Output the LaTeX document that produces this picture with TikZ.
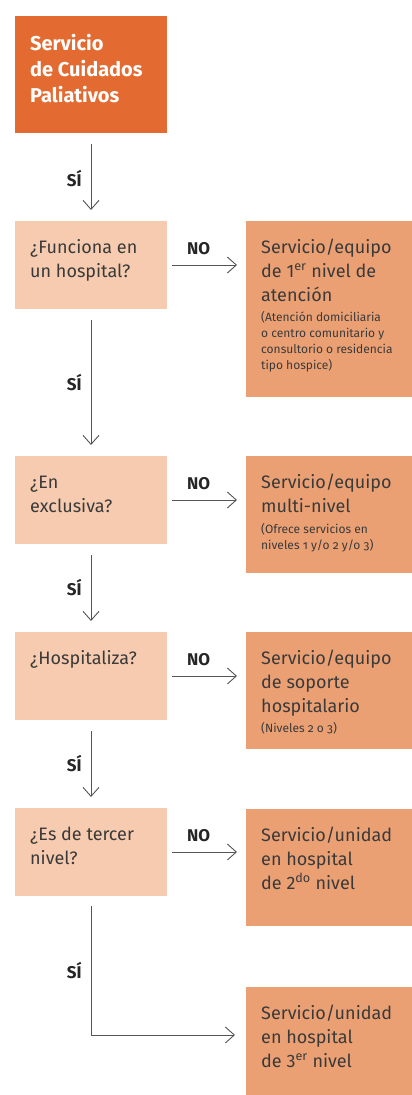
\documentclass[tikz,border=0pt]{standalone}
\usepackage{fontspec}
\setmainfont{Fira Sans}
\usetikzlibrary{arrows.meta}

\definecolor{naranja}{HTML}{E36B32}
\definecolor{salmon}{HTML}{EBA073}
\definecolor{melocoton}{HTML}{F6CBAF}
\definecolor{tinta}{HTML}{3A3A3A}
\definecolor{trazo}{HTML}{555555}

\tikzset{
  caja/.style={anchor=north west, inner sep=0pt, outer sep=0pt},
  inicio/.style={caja, fill=naranja, minimum width=152pt, minimum height=117pt},
  pregunta/.style={caja, fill=melocoton, minimum width=152pt, minimum height=88pt},
  respuesta/.style={caja, fill=salmon, minimum width=166pt},
  texto/.style={anchor=base west, inner sep=0pt, align=left, text=tinta,
    font=\fontsize{18}{24}\selectfont},
  nota/.style={anchor=base west, inner sep=0pt, align=left, text=tinta,
    font=\fontsize{12}{16}\selectfont\addfontfeatures{Numbers=OldStyle}},
  titulo/.style={anchor=base west, inner sep=0pt, align=left, text=white,
    font=\bfseries\fontsize{20}{26}\selectfont},
  flecha/.style={draw=trazo, line width=0.9pt,
    -{Straight Barb[length=9pt,width=16pt,line width=0.9pt]}},
  baja/.style={flecha, shorten <=11pt, shorten >=11pt},
  lado/.style={flecha, shorten <=5pt, shorten >=9pt},
  etiqueta/.style={inner sep=0pt, text=black!85, font=\bfseries\fontsize{17}{20}\selectfont},
}

\begin{document}
\begin{tikzpicture}[x=1pt, y=-1pt]
  \useasboundingbox (0,0) rectangle (412,1095);

  \def\margen{15pt}% text inset
  % base anchor sits on the last line: 32pt + 24pt per extra line
  \def\una{32pt}%
  \def\dos{56pt}%
  \def\tres{80pt}%

  % cajas
  \node[inicio] (inicio) at (15,16) {};
  \node[pregunta] (p1) at (15,221) {};
  \node[pregunta] (p2) at (15,456) {};
  \node[pregunta] (p3) at (15,632) {};
  \node[pregunta] (p4) at (15,808) {};
  \node[respuesta, minimum height=176pt] (r1) at (246,221) {};
  \node[respuesta, minimum height=117pt] (r2) at (246,456) {};
  \node[respuesta, minimum height=117pt] (r3) at (246,632) {};
  \node[respuesta, minimum height=117pt] (r4) at (246,809) {};
  \node[respuesta, minimum height=108pt] (r5) at (246,987) {};

  % textos
  \node[titulo] (inicio-t) at ([xshift=\margen, yshift=-86pt]inicio.north west)
    {Servicio\\de Cuidados\\Paliativos};
  \node[texto] (p1-t) at ([xshift=\margen, yshift=-\dos]p1.north west)
    {¿Funciona en\\un hospital?};
  \node[texto] (p2-t) at ([xshift=\margen, yshift=-\dos]p2.north west)
    {¿En\\exclusiva?};
  \node[texto] (p3-t) at ([xshift=\margen, yshift=-\una]p3.north west)
    {¿Hospitaliza?};
  \node[texto] (p4-t) at ([xshift=\margen, yshift=-\dos]p4.north west)
    {¿Es de tercer\\nivel?};

  \node[texto] (r1-t) at ([xshift=\margen, yshift=-\tres]r1.north west)
    {Servicio/equipo\\de 1\textsuperscript{er} nivel de\\atención};
  \node[nota] (r1-n) at ([xshift=\margen, yshift=-148pt]r1.north west)
    {(Atención domiciliaria\\o centro comunitario y\\consultorio o residencia\\tipo hospice)};
  \node[texto] (r2-t) at ([xshift=\margen, yshift=-\dos]r2.north west)
    {Servicio/equipo\\multi-nivel};
  \node[nota] (r2-n) at ([xshift=\margen, yshift=-93pt]r2.north west)
    {(Ofrece servicios en\\niveles 1 y/o 2 y/o 3)};
  \node[texto] (r3-t) at ([xshift=\margen, yshift=-\tres]r3.north west)
    {Servicio/equipo\\de soporte\\hospitalario};
  \node[nota] (r3-n) at ([xshift=\margen, yshift=-100pt]r3.north west)
    {(Niveles 2 o 3)};
  \node[texto] (r4-t) at ([xshift=\margen, yshift=-\tres]r4.north west)
    {Servicio/unidad\\en hospital\\de 2\textsuperscript{do} nivel};
  \node[texto] (r5-t) at ([xshift=\margen, yshift=-\tres]r5.north west)
    {Servicio/unidad\\en hospital\\de 3\textsuperscript{er} nivel};

  % flechas SÍ
  \draw[baja] (inicio) -- node[etiqueta, left, xshift=-9pt, yshift=-2pt] (si0) {SÍ} (p1);
  \draw[baja] (p1) -- node[etiqueta, left, xshift=-9pt] (si1) {SÍ} (p2);
  \draw[baja] (p2) -- node[etiqueta, left, xshift=-9pt] (si2) {SÍ} (p3);
  \draw[baja] (p3) -- node[etiqueta, left, xshift=-9pt] (si3) {SÍ} (p4);
  \coordinate (codo) at ([yshift=6pt]r5.west);
  \draw[flecha, shorten <=10pt, shorten >=11pt] (p4.south) -- node[etiqueta, left, xshift=-9pt, yshift=-5pt] (si4) {SÍ} (p4.south |- codo) -- (codo);

  % flechas NO
  \draw[lado] (p1.east) -- node[etiqueta, pos=0.4, above, yshift=10pt] (no1) {NO} (p1.east -| r1.west);
  \draw[lado] (p2.east) -- node[etiqueta, pos=0.4, above, yshift=10pt] (no2) {NO} (p2.east -| r2.west);
  \draw[lado] (p3.east) -- node[etiqueta, pos=0.4, above, yshift=10pt] (no3) {NO} (p3.east -| r3.west);
  \draw[lado] (p4.east) -- node[etiqueta, pos=0.4, above, yshift=10pt] (no4) {NO} (p4.east -| r4.west);
\end{tikzpicture}
\end{document}
